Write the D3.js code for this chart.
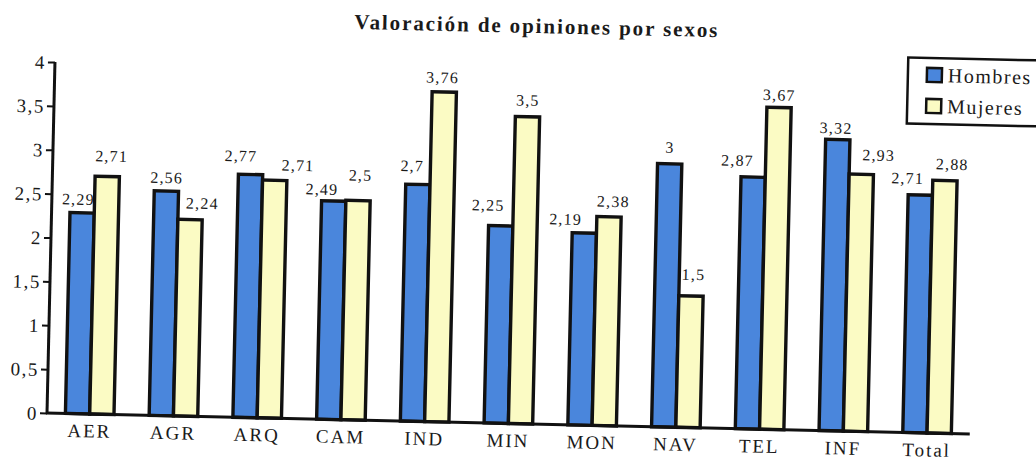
<!DOCTYPE html>
<html>
<head>
<meta charset="utf-8">
<script src="https://cdn.jsdelivr.net/npm/d3@7"></script>
<style>
  body { margin: 0; background: #fff; }
  svg { display: block; }
</style>
</head>
<body>
<div id="chart"></div>
<script>

// data
var categories = ["AER", "AGR", "ARQ", "CAM", "IND", "MIN", "MON", "NAV", "TEL", "INF", "Total"];
var hombres = [2.29, 2.56, 2.77, 2.49, 2.7, 2.25, 2.19, 3, 2.87, 3.32, 2.71];
var mujeres = [2.71, 2.24, 2.71, 2.5, 3.76, 3.5, 2.38, 1.5, 3.67, 2.93, 2.88];
var seriesNames = ["Hombres", "Mujeres"];
var yTicks = [0, 0.5, 1, 1.5, 2, 2.5, 3, 3.5, 4];

// the value labels were hand placed in the original, nudge them the same way
var nudgeXH = [-4, 0, -10, -12, -6, -13, -19, 0, -16, -2, -13];
var nudgeXM = [4, 12, 23, 2, -2, 0, 4, 2, 0, 17, 7];
var nudgeYH = [8, 8, 13, 6, 13, 15, 8, 11, 11, 6, 11];
var nudgeYM = [15, 11, 10, 20, 9, 11, 10, 16, 7, 14, 11];

var W = 1036, H = 461;
// plot frame (before the slight scan rotation)
var ox = 47, oy = 413, pw = 923, ph = 351;
var tilt = 1.3; // the page was scanned a bit crooked
var serif = "'Liberation Serif', 'DejaVu Serif', serif";

var colors = { Hombres: "#4a86dc", Mujeres: "#fbfbc4" };

var es = d3.formatLocale({ decimal: ",", thousands: ".", grouping: [3], currency: ["", " €"] });
var fmt = es.format("~g");

var svg = d3.select("#chart").append("svg")
    .attr("width", W)
    .attr("height", H)
    .style("font-family", serif);

var g = svg.append("g")
    .attr("transform", "rotate(" + tilt + "," + ox + "," + oy + ") translate(" + ox + "," + (oy - ph) + ")");

var x = d3.scaleBand()
    .domain(categories)
    .range([0, pw])
    .paddingInner(0.42)
    .paddingOuter(0.22);

var xs = d3.scaleBand()
    .domain(seriesNames)
    .range([0, x.bandwidth()]);

var y = d3.scaleLinear()
    .domain([0, 4])
    .range([ph, 0]);

// title
g.append("text")
    .attr("x", 481)
    .attr("y", -(oy - ph) + 22)
    .attr("text-anchor", "middle")
    .style("font-family", serif)
    .style("font-size", "21px")
    .style("font-weight", "bold")
    .style("letter-spacing", "1.9px")
    .style("fill", "#1a1a1a")
    .text("Valoración de opiniones por sexos");

// bars
var rows = categories.map(function(c, i) {
  return { cat: c, vals: [
    { s: "Hombres", v: hombres[i], dx: nudgeXH[i], dy: nudgeYH[i] },
    { s: "Mujeres", v: mujeres[i], dx: nudgeXM[i], dy: nudgeYM[i] }
  ] };
});

var grp = g.selectAll("g.cat")
    .data(rows)
  .enter().append("g")
    .attr("class", "cat")
    .attr("transform", function(d) { return "translate(" + x(d.cat) + ",0)"; });

grp.selectAll("rect")
    .data(function(d) { return d.vals; })
  .enter().append("rect")
    .attr("x", function(d) { return xs(d.s); })
    .attr("y", function(d) { return y(d.v); })
    .attr("width", xs.bandwidth())
    .attr("height", function(d) { return y(0) - y(d.v); })
    .style("fill", function(d) { return colors[d.s]; })
    .style("stroke", "#111")
    .style("stroke-width", 3.4);

grp.selectAll("text.val")
    .data(function(d) { return d.vals; })
  .enter().append("text")
    .attr("class", "val")
    .attr("x", function(d) { return xs(d.s) + xs.bandwidth() / 2 + d.dx; })
    .attr("y", function(d) { return y(d.v) - d.dy; })
    .attr("text-anchor", "middle")
    .style("font-family", serif)
    .style("font-size", "16px")
    .style("letter-spacing", "1.2px")
    .style("fill", "#1a1a1a")
    .text(function(d) { return fmt(d.v); });

// y axis
var yAxis = g.append("g")
    .call(d3.axisLeft(y).tickValues(yTicks).tickFormat(fmt).tickSize(7).tickPadding(2));
yAxis.attr("font-family", null);
yAxis.select(".domain").remove();
yAxis.selectAll(".tick line").style("stroke", "#111").style("stroke-width", 2);
yAxis.selectAll(".tick text")
    .style("font-family", serif)
    .style("font-size", "19px")
    .style("letter-spacing", "1.5px")
    .style("fill", "#1a1a1a")
    .attr("dy", "0.34em");

g.append("line")
    .attr("x1", 0).attr("x2", 0)
    .attr("y1", y(4)).attr("y2", y(0))
    .style("stroke", "#111").style("stroke-width", 3);

// x axis
var xAxis = g.append("g")
    .attr("transform", "translate(0," + ph + ")")
    .call(d3.axisBottom(x).tickSize(0).tickPadding(10));
xAxis.attr("font-family", null);
xAxis.select(".domain").remove();
xAxis.selectAll(".tick text")
    .style("font-family", serif)
    .style("font-size", "19px")
    .style("letter-spacing", "2px")
    .style("fill", "#1a1a1a");

g.append("line")
    .attr("x1", -1).attr("x2", pw)
    .attr("y1", ph).attr("y2", ph)
    .style("stroke", "#111").style("stroke-width", 3);

// legend (runs off the right edge like the scan)
var leg = g.append("g")
    .attr("transform", "translate(853," + (-(oy - ph) + 38) + ")");

leg.append("rect")
    .attr("width", 150)
    .attr("height", 66)
    .style("fill", "#fff")
    .style("stroke", "#111")
    .style("stroke-width", 2.5);

var li = leg.selectAll("g.item")
    .data(seriesNames)
  .enter().append("g")
    .attr("class", "item")
    .attr("transform", function(d, i) { return "translate(19," + (10 + i * 31) + ")"; });

li.append("rect")
    .attr("width", 15)
    .attr("height", 14)
    .style("fill", function(d) { return colors[d]; })
    .style("stroke", "#111")
    .style("stroke-width", 2.5);

li.append("text")
    .attr("x", 21)
    .attr("y", 14)
    .style("font-family", serif)
    .style("font-size", "20px")
    .style("letter-spacing", "1.5px")
    .style("fill", "#1a1a1a")
    .text(function(d) { return d; });

</script>
</body>
</html>
